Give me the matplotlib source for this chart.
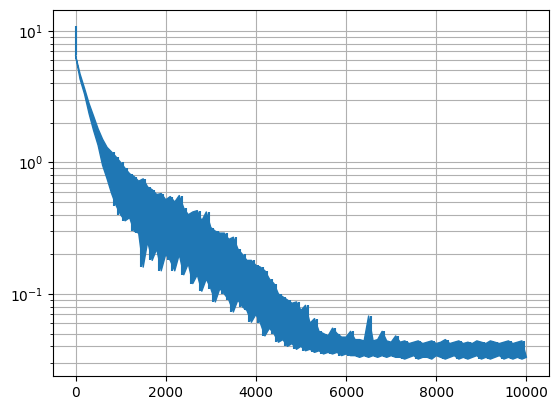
import numpy as np
import matplotlib
matplotlib.use("Agg")
import matplotlib.pyplot as plt

# training loss
loss_start = 10.9   # very first step

# for each 100-step window: highest value (near its start) and
# lowest value (near its end) that the noisy curve reaches
loss_max = [6.5, 4.7, 3.65, 2.8, 2.25, 1.8, 1.5, 1.3, 1.2, 1.1,
            1.0, 0.9, 0.82, 0.78, 0.72, 0.75, 0.65, 0.62, 0.57, 0.58,
            0.52, 0.55, 0.5, 0.56, 0.45, 0.4, 0.42, 0.43, 0.36, 0.42,
            0.32, 0.3, 0.29, 0.29, 0.26, 0.27, 0.22, 0.2, 0.18, 0.18,
            0.165, 0.16, 0.15, 0.13, 0.12, 0.1, 0.095, 0.09, 0.085, 0.087,
            0.075, 0.082, 0.06, 0.065, 0.052, 0.05, 0.048, 0.055, 0.05, 0.047,
            0.047, 0.052, 0.045, 0.045, 0.044, 0.068, 0.044, 0.045, 0.052, 0.044,
            0.043, 0.048, 0.043, 0.044, 0.042, 0.043, 0.044, 0.042, 0.043, 0.044,
            0.042, 0.043, 0.045, 0.042, 0.043, 0.044, 0.042, 0.043, 0.042, 0.044,
            0.043, 0.042, 0.044, 0.043, 0.042, 0.043, 0.044, 0.042, 0.043, 0.044]
loss_min = [4.3, 3.3, 2.35, 1.75, 1.35, 0.95, 0.75, 0.58, 0.47, 0.4,
            0.36, 0.38, 0.3, 0.29, 0.16, 0.25, 0.18, 0.22, 0.15, 0.2,
            0.18, 0.15, 0.2, 0.14, 0.17, 0.12, 0.14, 0.105, 0.13, 0.11,
            0.087, 0.11, 0.1, 0.09, 0.073, 0.09, 0.08, 0.075, 0.061, 0.07,
            0.06, 0.048, 0.055, 0.05, 0.043, 0.045, 0.04, 0.042, 0.038, 0.04,
            0.037, 0.038, 0.036, 0.037, 0.035, 0.036, 0.035, 0.036, 0.034, 0.035,
            0.034, 0.034, 0.033, 0.034, 0.033, 0.034, 0.033, 0.034, 0.033, 0.034,
            0.033, 0.033, 0.032, 0.033, 0.034, 0.032, 0.033, 0.033, 0.032, 0.034,
            0.033, 0.032, 0.033, 0.034, 0.032, 0.033, 0.032, 0.033, 0.034, 0.032,
            0.033, 0.032, 0.033, 0.034, 0.032, 0.033, 0.032, 0.033, 0.032, 0.033]
steps = np.arange(0, 10000, 100)   # start of each window

fig = plt.figure(figsize=(5.58, 4.13), dpi=100)
ax = fig.add_axes([53 / 558, 37 / 413, 496 / 558, 366 / 413])

c = '#1f77b4'
# noisy band: upper edge through the window maxima, lower edge through the minima
band_x = np.concatenate([steps, (steps + 100)[::-1]])
band_y = np.concatenate([loss_max, loss_min[::-1]])
ax.fill(band_x, band_y, facecolor=c, edgecolor=c, linewidth=1.0,
        joinstyle='round', zorder=2)
# single spikes of each window (the first ~800 steps are smooth)
n0 = 8
ax.vlines(steps[n0:] + 50, loss_min[n0:], loss_max[n0:], color=c,
          linewidth=1.5, zorder=2)
ax.vlines(0, loss_max[0], loss_start, color=c, linewidth=1.5, zorder=2)

ax.set_yscale('log')
ax.set_xlim(-500, 10500)
ax.set_ylim(0.0238, 14.4)
ax.grid(True, which='both')

plt.savefig('out.png', dpi=100)
